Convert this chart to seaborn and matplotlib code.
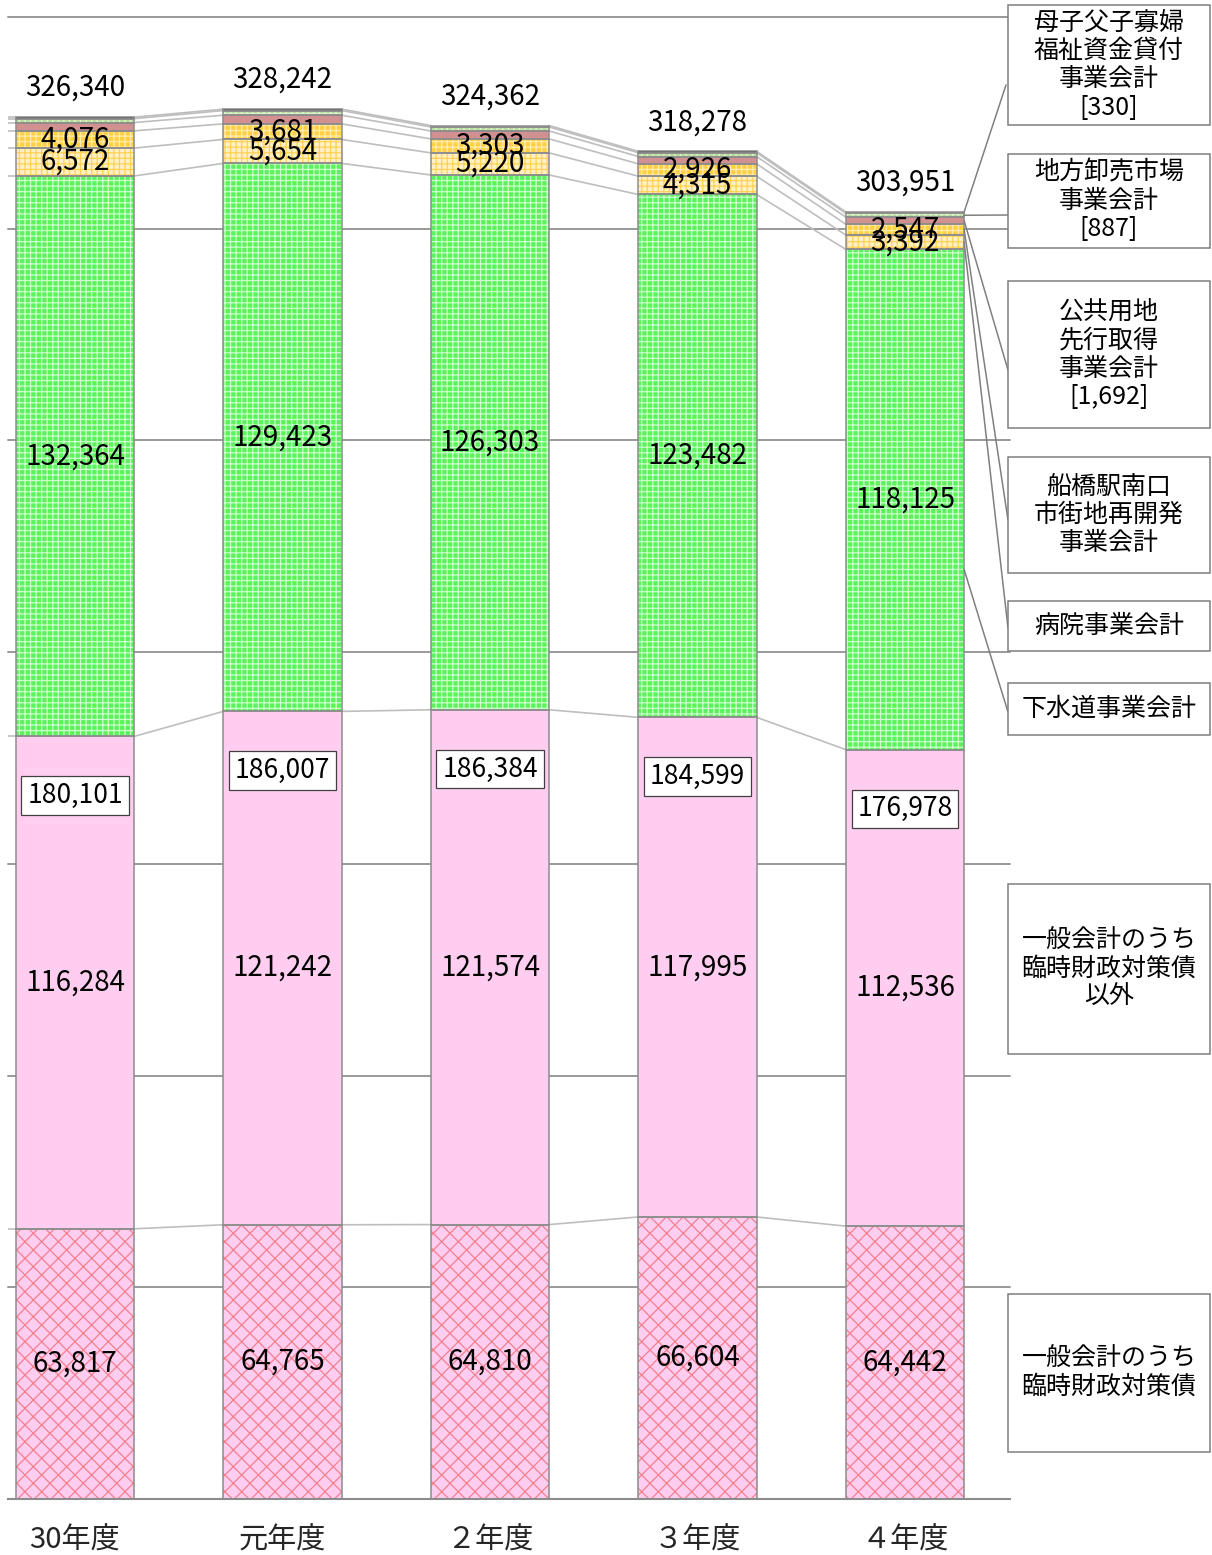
import matplotlib
matplotlib.use("Agg")
import matplotlib.pyplot as plt
from matplotlib.patches import Rectangle
import numpy as np
import seaborn as sns

# Data (百万円)
years = ["30年度", "元年度", "２年度", "３年度", "４年度"]

rinzai = [63817, 64765, 64810, 66604, 64442]            # 一般会計のうち臨時財政対策債
ippan_other = [116284, 121242, 121574, 117995, 112536]  # 一般会計のうち臨時財政対策債以外
gesuido = [132364, 129423, 126303, 123482, 118125]      # 下水道事業会計
byoin = [6572, 5654, 5220, 4315, 3392]                  # 病院事業会計
funabashi = [4076, 3681, 3303, 2926, 2547]              # 船橋駅南口市街地再開発事業会計
kokyo = [1957, 2042, 1869, 1724, 1692]                  # 公共用地先行取得事業会計
oroshi = [930, 1100, 950, 900, 887]                     # 地方卸売市場事業会計
boshi = [340, 335, 333, 332, 330]                       # 母子父子寡婦福祉資金貸付事業会計

legend_labels = [
    "母子父子寡婦\n福祉資金貸付\n事業会計\n[330]",
    "地方卸売市場\n事業会計\n[887]",
    "公共用地\n先行取得\n事業会計\n[1,692]",
    "船橋駅南口\n市街地再開発\n事業会計",
    "病院事業会計",
    "下水道事業会計",
    "一般会計のうち\n臨時財政対策債\n以外",
    "一般会計のうち\n臨時財政対策債",
]

# style per layer: (values, fill, hatch, hatch colour, label inside)
layers = [
    (rinzai, "#FFCDEF", "xx", "#F2808E", True),
    (ippan_other, "#FFCDEF", None, None, True),
    (gesuido, "#5CF25C", "+++", "#CCFFCC", True),
    (byoin, "#FFF1C4", "+++", "#FFD256", True),
    (funabashi, "#FFCF45", "+++", "#FFEDB0", True),
    (kokyo, "#D29090", None, None, False),
    (oroshi, "#B9DE9C", "+++", "#E4F5D6", False),
    (boshi, "#1A1A1A", None, None, False),
]

sns.set_theme(style="white")
plt.rcParams["font.family"] = ["Noto Sans CJK JP", "DejaVu Sans"]
plt.rcParams["hatch.linewidth"] = 0.9

FW, FH = 1212, 1555
fig = plt.figure(figsize=(FW / 100, FH / 100), dpi=100)
ax = fig.add_axes([8 / FW, 56 / FH, 1002 / FW, 1482 / FH])

W = 0.57
EDGE = "#8C8C8C"
bottom = np.zeros(len(years))
tops = []
bottoms = []
for vals, fill, hatch, hcol, _ in layers:
    vals = np.array(vals)
    n0 = len(ax.patches)
    sns.barplot(x=years, y=vals, bottom=bottom, color=fill, width=W,
                saturation=1, errorbar=None, ax=ax)
    for p in ax.patches[n0:]:
        p.set_facecolor(fill)
        p.set_edgecolor("none")
        p.set_linewidth(0)
        p.set_zorder(2)
    if hatch:
        n1 = len(ax.patches)
        sns.barplot(x=years, y=vals, bottom=bottom, color=fill, width=W,
                    saturation=1, errorbar=None, ax=ax)
        for p in ax.patches[n1:]:
            p.set_facecolor("none")
            p.set_edgecolor(hcol)
            p.set_linewidth(0)
            p.set_hatch(hatch)
            p.set_zorder(2.2)
    n2 = len(ax.patches)
    sns.barplot(x=years, y=vals, bottom=bottom, color=fill, width=W,
                saturation=1, errorbar=None, ax=ax)
    for p in ax.patches[n2:]:
        p.set_facecolor("none")
        p.set_edgecolor(EDGE)
        p.set_linewidth(1.1)
        p.set_zorder(2.4)
    bottoms.append(bottom.copy())
    bottom = bottom + vals
    tops.append(bottom.copy())

XL, XR = -0.3229, 4.506
xs = np.arange(len(years))

# series lines
for t in tops:
    ax.plot([XL, xs[0] - W / 2], [t[0], t[0]], color="#BEBEBE", lw=1.2, zorder=1.5)
    for i in range(len(years) - 1):
        ax.plot([xs[i] + W / 2, xs[i + 1] - W / 2], [t[i], t[i + 1]],
                color="#BEBEBE", lw=1.2, zorder=1.5)

# gridlines
for g in range(50000, 350001, 50000):
    ax.axhline(g, color="#999999", lw=1.4, zorder=0.5, clip_on=False)

# value labels
FS = 20
for k, (vals, _, _, _, show) in enumerate(layers):
    if not show:
        continue
    for i, v in enumerate(vals):
        ax.text(xs[i], bottoms[k][i] + v / 2, f"{v:,}", ha="center", va="center",
                fontsize=FS, color="black", zorder=5)

general = tops[1]
for i, v in enumerate(general):
    ax.text(xs[i], v - 14000, f"{int(v):,}", ha="center", va="center",
            fontsize=FS - 1, color="black", zorder=5,
            bbox=dict(boxstyle="square,pad=0.22", fc="white", ec="#404040", lw=0.9))

total = tops[-1]
for i, v in enumerate(total):
    ax.annotate(f"{int(v):,}", (xs[i], v), xytext=(0, 21), textcoords="offset points",
                ha="center", va="center", fontsize=FS, color="black")

ax.set_xlim(XL, XR)
ax.set_ylim(0, 350000)
ax.set_yticks([])
ax.set_xticks(xs)
ax.set_xticklabels(years, fontsize=21)
ax.tick_params(axis="x", length=0, pad=19)
ax.set_xlabel("")
ax.set_ylabel("")
for s in ["top", "left", "right"]:
    ax.spines[s].set_visible(False)
ax.spines["bottom"].set_color(EDGE)
ax.spines["bottom"].set_linewidth(1.5)
ax.grid(False)

# legend boxes on the right (figure pixels, measured from top)
box_spans = [(5, 125), (154, 248), (281, 428), (457, 573), (601, 651),
             (683, 735), (884, 1054), (1294, 1452)]
for lab, (t, b) in zip(legend_labels, box_spans):
    fig.patches.append(Rectangle((1008 / FW, 1 - b / FH), 202 / FW, (b - t) / FH,
                                 transform=fig.transFigure, fc="white",
                                 ec="#7F7F7F", lw=1.1))
    fig.text(1109 / FW, 1 - (t + b) / 2 / FH, lab, ha="center", va="center",
             fontsize=18, linespacing=1.12, color="black")

# leader lines from last bar to boxes
xr = xs[-1] + W / 2
last = len(years) - 1
leaders = [
    (tops[7][last], (1006, 85)),
    (tops[6][last] - oroshi[last] / 2, (1008, 215)),
    (tops[5][last] - kokyo[last] / 2, (1008, 370)),
    (tops[4][last] - funabashi[last] / 2, (1008, 520)),
    (tops[3][last] - byoin[last] / 2, (1008, 628)),
    (bottoms[2][last] + 0.36 * gesuido[last], (1008, 712)),
]
for yv, (px, py) in leaders:
    ax.annotate("", xy=(xr, yv), xycoords="data", xytext=(px, FH - py),
                textcoords="figure pixels",
                arrowprops=dict(arrowstyle="-", color="#808080", lw=1.1,
                                shrinkA=0, shrinkB=0))

fig.savefig("out.png", dpi=100)
